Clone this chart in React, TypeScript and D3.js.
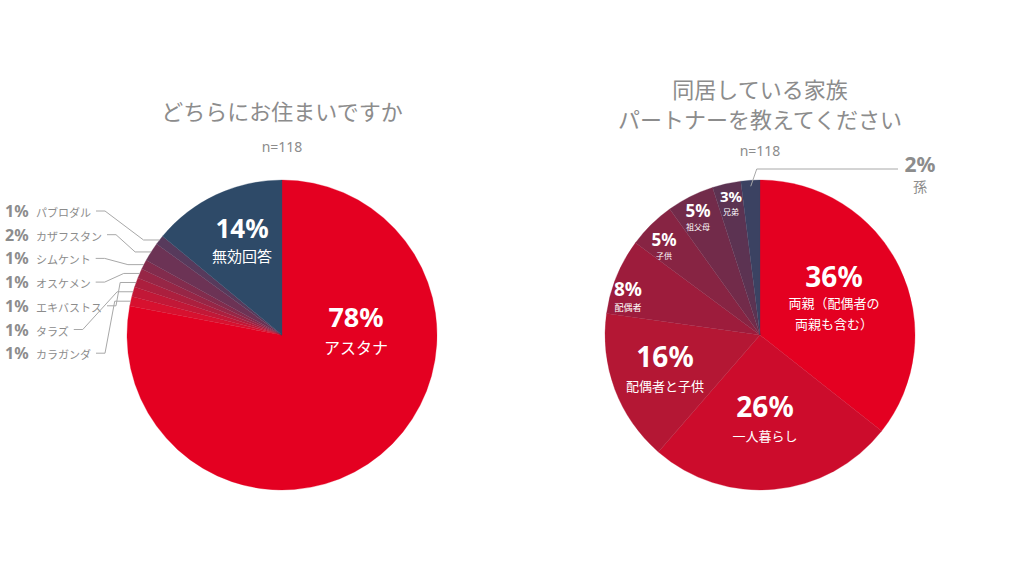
import React, { useEffect, useRef } from "react";
import * as d3 from "d3";

// Left chart: どちらにお住まいですか
const leftCategories = ["アスタナ", "カラガンダ", "タラズ", "エキバストス", "オスケメン", "シムケント", "カザフスタン", "パブロダル", "無効回答"];
const leftValues = [78, 1, 1, 1, 1, 1, 2, 1, 14];
// Right chart: 同居している家族
const rightCategories = ["両親（配偶者の両親も含む）", "一人暮らし", "配偶者と子供", "配偶者", "子供", "祖父母", "兄弟", "孫"];
const rightValues = [36, 26, 16, 8, 5, 5, 3, 2];
const sampleN = 118;

const RED = "#e40021";
const NAVY = "#2e4a68";
const GREY = "#8c8c8c";
const JP = "'Noto Sans CJK JP', 'Noto Sans', sans-serif";
const NUM = "'Noto Sans', 'Open Sans', sans-serif";

export default function App() {
  const ref = useRef<SVGSVGElement | null>(null);

  useEffect(() => {
    const svg = d3.select(ref.current);
    svg.selectAll("*").remove();
    const R = 155;

    // ---------- Left pie ----------
    const lc = { x: 282, y: 335 };
    const gL = svg.append("g").attr("transform", `translate(${lc.x},${lc.y})`);
    const pie = d3.pie<number>().sort(null).value((d) => d);
    const arc = d3.arc<d3.PieArcDatum<number>>().innerRadius(0).outerRadius(R);
    const la = pie(leftValues);
    const smallInterp = d3.interpolateRgb("#d7112f", "#573a5c");
    const leftColor = (i: number) => {
      if (i === 0) return RED;
      if (i === leftValues.length - 1) return NAVY;
      return smallInterp((i - 1) / (leftValues.length - 3));
    };
    gL.selectAll("path")
      .data(la)
      .enter()
      .append("path")
      .attr("d", arc as any)
      .attr("fill", (_d, i) => leftColor(i))
      .attr("stroke", (_d, i) => leftColor(i))
      .attr("stroke-width", 0.3);

    // inside labels
    const inLabel = (g: any, x: number, y: number, pct: string, name: string[], ps: number, ns: number, gap: number, lh: number) => {
      g.append("text").attr("x", x).attr("y", y).attr("text-anchor", "middle").attr("dominant-baseline", "central")
        .attr("font-family", NUM).attr("font-weight", 700).attr("font-size", ps).attr("fill", "#fff").text(pct);
      name.forEach((n, k) => {
        g.append("text").attr("x", x).attr("y", y + gap + k * lh).attr("text-anchor", "middle").attr("dominant-baseline", "central")
          .attr("font-family", JP).attr("font-size", ns).attr("fill", "#fff").text(n);
      });
    };
    inLabel(svg, 356, 316, `${leftValues[0]}%`, [leftCategories[0]], 27, 16, 31, 0);
    inLabel(svg, 242, 228, `${leftValues[8]}%`, [leftCategories[8]], 26, 15, 27, 0);

    // outside labels (small slices), top to bottom = reverse order
    const smallIdx = [7, 6, 5, 4, 3, 2, 1];
    smallIdx.forEach((si, k) => {
      const ly = 211 + k * 23.7;
      svg.append("text").attr("x", 5).attr("y", ly).attr("dominant-baseline", "central")
        .attr("font-family", NUM).attr("font-weight", 700).attr("font-size", 16).attr("fill", GREY).text(`${leftValues[si]}%`);
      const nt = svg.append("text").attr("x", 36).attr("y", ly + 1).attr("dominant-baseline", "central")
        .attr("font-family", JP).attr("font-size", 11).attr("fill", GREY).text(leftCategories[si]);
      const endX = 36 + (nt.node() as SVGTextElement).getComputedTextLength() + 5;
      const d = la[si];
      const mid = (d.startAngle + d.endAngle) / 2;
      const px = lc.x + R * Math.sin(mid);
      const py = lc.y - R * Math.cos(mid);
      const pts: [number, number][] = [
        [endX, ly],
        [endX + 9, ly],
        [px - 16, py],
        [px, py],
      ];
      svg.append("path").attr("d", d3.line()(pts) as string).attr("fill", "none").attr("stroke", "#a8a8a8").attr("stroke-width", 1);
    });

    // titles
    svg.append("text").attr("x", 282).attr("y", 110).attr("text-anchor", "middle").attr("dominant-baseline", "central")
      .attr("font-family", JP).attr("font-size", 22).attr("fill", GREY).text("どちらにお住まいですか");
    svg.append("text").attr("x", 282).attr("y", 146).attr("text-anchor", "middle").attr("dominant-baseline", "central")
      .attr("font-family", NUM).attr("font-size", 14).attr("fill", GREY).text(`n=${sampleN}`);

    // ---------- Right pie ----------
    const rc = { x: 760, y: 335 };
    const gR = svg.append("g").attr("transform", `translate(${rc.x},${rc.y})`);
    const ra = pie(rightValues);
    const rc2 = ["#e40021", "#cc0c2c", "#b41734", "#9d1c3c", "#872443", "#722b4a", "#5c3352", "#3b4262"];
    gR.selectAll("path")
      .data(ra)
      .enter()
      .append("path")
      .attr("d", arc as any)
      .attr("fill", (_d, i) => rc2[i])
      .attr("stroke", (_d, i) => rc2[i])
      .attr("stroke-width", 0.3);

    inLabel(svg, 834, 276, `${rightValues[0]}%`, ["両親（配偶者の", "両親も含む）"], 28, 13, 26, 21);
    inLabel(svg, 765, 406, `${rightValues[1]}%`, [rightCategories[1]], 28, 13, 29, 0);
    inLabel(svg, 665, 356, `${rightValues[2]}%`, [rightCategories[2]], 28, 13, 29, 0);
    inLabel(svg, 628, 289, `${rightValues[3]}%`, [rightCategories[3]], 19, 9, 18, 0);
    inLabel(svg, 664, 239, `${rightValues[4]}%`, [rightCategories[4]], 17, 8, 16, 0);
    inLabel(svg, 698, 210, `${rightValues[5]}%`, [rightCategories[5]], 17, 8, 16, 0);
    inLabel(svg, 731, 196, `${rightValues[6]}%`, [rightCategories[6]], 15, 8, 15, 0);

    // outside label for 孫
    const dg = ra[7];
    const gm = (dg.startAngle + dg.endAngle) / 2;
    const gx = rc.x + (R - 6) * Math.sin(gm);
    const gy = rc.y - (R - 6) * Math.cos(gm);
    svg.append("path").attr("d", d3.line()([[gx, gy], [gx + 6, 169], [898, 169]]) as string)
      .attr("fill", "none").attr("stroke", "#a8a8a8").attr("stroke-width", 1);
    svg.append("text").attr("x", 920).attr("y", 164).attr("text-anchor", "middle").attr("dominant-baseline", "central")
      .attr("font-family", NUM).attr("font-weight", 700).attr("font-size", 21).attr("fill", GREY).text(`${rightValues[7]}%`);
    svg.append("text").attr("x", 920).attr("y", 186).attr("text-anchor", "middle").attr("dominant-baseline", "central")
      .attr("font-family", JP).attr("font-size", 14).attr("fill", GREY).text(rightCategories[7]);

    svg.append("text").attr("x", 760).attr("y", 88).attr("text-anchor", "middle").attr("dominant-baseline", "central")
      .attr("font-family", JP).attr("font-size", 22).attr("fill", GREY).text("同居している家族");
    svg.append("text").attr("x", 760).attr("y", 118).attr("text-anchor", "middle").attr("dominant-baseline", "central")
      .attr("font-family", JP).attr("font-size", 22).attr("fill", GREY).text("パートナーを教えてください");
    svg.append("text").attr("x", 760).attr("y", 150).attr("text-anchor", "middle").attr("dominant-baseline", "central")
      .attr("font-family", NUM).attr("font-size", 14).attr("fill", GREY).text(`n=${sampleN}`);
  }, []);

  return (
    <svg
      ref={ref}
      width={1024}
      height={577}
      style={{ position: "absolute", left: 0, top: 0, background: "#fff" }}
    />
  );
}
